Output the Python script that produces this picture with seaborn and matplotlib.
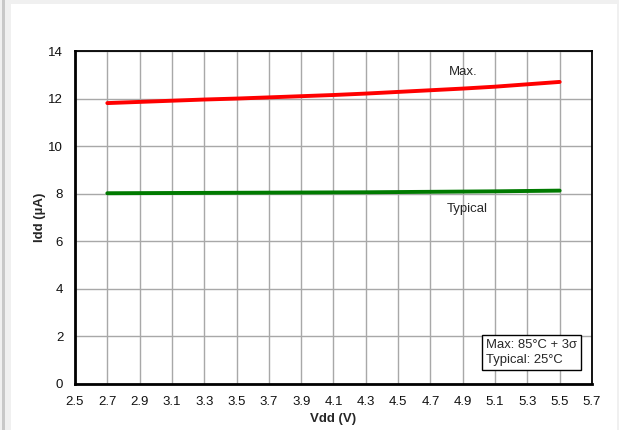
import matplotlib
matplotlib.use('Agg')
import matplotlib.pyplot as plt
import numpy as np
import pandas as pd
import seaborn as sns
from matplotlib.patches import Rectangle


vdd = [2.7, 2.9, 3.1, 3.3, 3.5, 3.7, 3.9, 4.1, 4.3, 4.5, 4.7, 4.9, 5.1, 5.3, 5.5]
idd_max = [11.81, 11.86, 11.91, 11.96, 12.0, 12.05, 12.1, 12.15, 12.21,
           12.28, 12.35, 12.42, 12.5, 12.6, 12.7]
idd_typ = [8.02, 8.025, 8.03, 8.035, 8.04, 8.045, 8.05, 8.055, 8.06,
           8.07, 8.08, 8.09, 8.10, 8.115, 8.13]

x_ticks = [2.5, 2.7, 2.9, 3.1, 3.3, 3.5, 3.7, 3.9, 4.1, 4.3, 4.5, 4.7, 4.9,
           5.1, 5.3, 5.5, 5.7]
y_ticks = [0, 2, 4, 6, 8, 10, 12, 14]

df = pd.DataFrame({'Vdd': vdd * 2,
                   'Idd': idd_max + idd_typ,
                   'curve': ['Max.'] * len(vdd) + ['Typical'] * len(vdd)})

sns.set_style('white')
plt.rcParams['font.family'] = ['Liberation Sans', 'DejaVu Sans']

fig = plt.figure(figsize=(6.19, 4.30), dpi=100, facecolor='#f0f0f0')
fig.patches.append(Rectangle((11 / 619, 0), (617 - 11) / 619, (430 - 4) / 430,
                             transform=fig.transFigure, facecolor='white',
                             edgecolor='none', zorder=-2))
fig.patches.append(Rectangle((2 / 619, 0), 3 / 619, 1,
                             transform=fig.transFigure, facecolor='#c8c8c8',
                             edgecolor='none', zorder=-2))
ax = fig.add_axes([75 / 619, 1 - 384 / 430, (592 - 75) / 619, (384 - 51) / 430])
ax.set_zorder(1)

sns.lineplot(data=df, x='Vdd', y='Idd', hue='curve',
             palette={'Max.': '#ff0000', 'Typical': '#007a00'},
             linewidth=2.8, legend=False, ax=ax, zorder=3)

ax.set_xlim(2.5, 5.7)
ax.set_ylim(0, 14)
ax.set_xticks(x_ticks)
ax.set_xticklabels([f'{t:.1f}' for t in x_ticks])
ax.set_yticks(y_ticks)
ax.grid(True, color='#a8a8a8', linewidth=1.0)
ax.tick_params(axis='both', length=0, labelsize=9.5, colors='#111111', pad=8.5)

for side in ['left', 'bottom']:
    ax.spines[side].set_linewidth(2.0)
    ax.spines[side].set_color('black')
for side in ['top', 'right']:
    ax.spines[side].set_linewidth(1.3)
    ax.spines[side].set_color('black')

ax.set_xlabel('Vdd (V)', fontsize=9.5, fontweight='bold', labelpad=4)
ax.set_ylabel('Idd (µA)', fontsize=9.5, fontweight='bold', labelpad=2)

ax.text(4.9, 13.1, 'Max.', fontsize=9.5, ha='center', va='center')
ax.text(4.93, 7.35, 'Typical', fontsize=9.5, ha='center', va='center')
ax.text(5.042, 1.33, 'Max: 85°C + 3σ\nTypical: 25°C', fontsize=9.4,
        ha='left', va='center', linespacing=1.3, zorder=5,
        bbox=dict(boxstyle='square,pad=0.3', facecolor='white',
                  edgecolor='black', linewidth=1.0))

fig.savefig('out.png', dpi=100, facecolor=fig.get_facecolor())
